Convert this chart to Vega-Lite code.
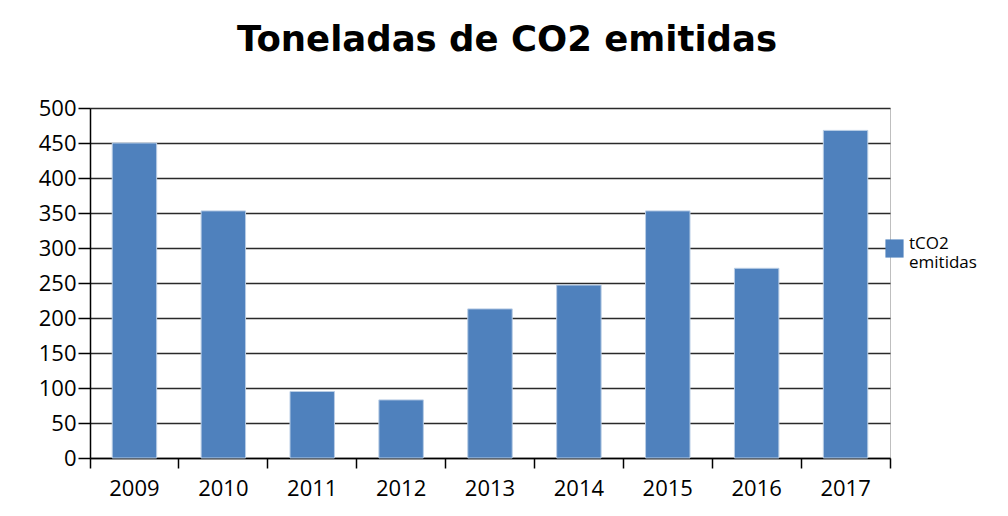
{
  "$schema": "https://vega.github.io/schema/vega-lite/v6.json",
  "width": 800,
  "height": 350,
  "autosize": {"type": "none"},
  "padding": {"left": 90, "top": 108, "right": 118, "bottom": 58},
  "background": "white",
  "title": {
    "text": "Toneladas de CO2 emitidas",
    "font": "DejaVu Sans",
    "fontSize": 35.5,
    "fontWeight": "bold",
    "color": "#000000",
    "anchor": "middle",
    "dx": 17,
    "offset": 39
  },
  "data": {
    "values": [
      {"year": "2009", "serie": "tCO2 emitidas", "value": 450},
      {"year": "2010", "serie": "tCO2 emitidas", "value": 353},
      {"year": "2011", "serie": "tCO2 emitidas", "value": 95},
      {"year": "2012", "serie": "tCO2 emitidas", "value": 83},
      {"year": "2013", "serie": "tCO2 emitidas", "value": 213},
      {"year": "2014", "serie": "tCO2 emitidas", "value": 247},
      {"year": "2015", "serie": "tCO2 emitidas", "value": 353},
      {"year": "2016", "serie": "tCO2 emitidas", "value": 271},
      {"year": "2017", "serie": "tCO2 emitidas", "value": 468}
    ]
  },
  "mark": {"type": "bar", "stroke": "#b9cde5", "strokeWidth": 1, "width": {"band": 0.5}},
  "encoding": {
    "x": {
      "field": "year",
      "type": "ordinal",
      "scale": {"paddingInner": 0, "paddingOuter": 0},
      "axis": {
        "title": null,
        "labelAngle": 0,
        "labelFont": "Open Sans",
        "labelFontSize": 22,
        "labelColor": "#000000",
        "bandPosition": 1,
        "tickExtra": true,
        "tickSize": 10,
        "tickColor": "#000000",
        "tickWidth": 1.5,
        "domainColor": "#000000",
        "domainWidth": 1.5,
        "labelPadding": 10,
        "grid": false
      }
    },
    "y": {
      "field": "value",
      "type": "quantitative",
      "scale": {"domain": [0, 500], "nice": false},
      "axis": {
        "title": null,
        "values": [0, 50, 100, 150, 200, 250, 300, 350, 400, 450, 500],
        "labelFont": "Open Sans",
        "labelFontSize": 22,
        "labelColor": "#000000",
        "tickSize": 12,
        "tickColor": "#000000",
        "tickWidth": 1.5,
        "domainColor": "#000000",
        "domainWidth": 1.5,
        "labelPadding": 2,
        "grid": true,
        "gridColor": "#2a2a2a",
        "gridWidth": 1.5,
        "gridOpacity": 1
      }
    },
    "color": {
      "field": "serie",
      "type": "nominal",
      "scale": {"range": ["#4f81bd"]},
      "legend": {
        "title": null,
        "orient": "none",
        "legendX": 795,
        "legendY": 131,
        "symbolType": "square",
        "symbolSize": 330,
        "symbolStrokeWidth": 0,
        "labelFont": "Open Sans",
        "labelFontSize": 17,
        "labelColor": "#000000",
        "labelExpr": "split(datum.label, ' ')",
        "labelLineHeight": 21,
        "labelBaseline": "alphabetic",
        "labelOffset": 5,
        "padding": 0
      }
    }
  },
  "config": {
    "view": {"stroke": "#bfbfbf", "strokeWidth": 1}
  }
}
